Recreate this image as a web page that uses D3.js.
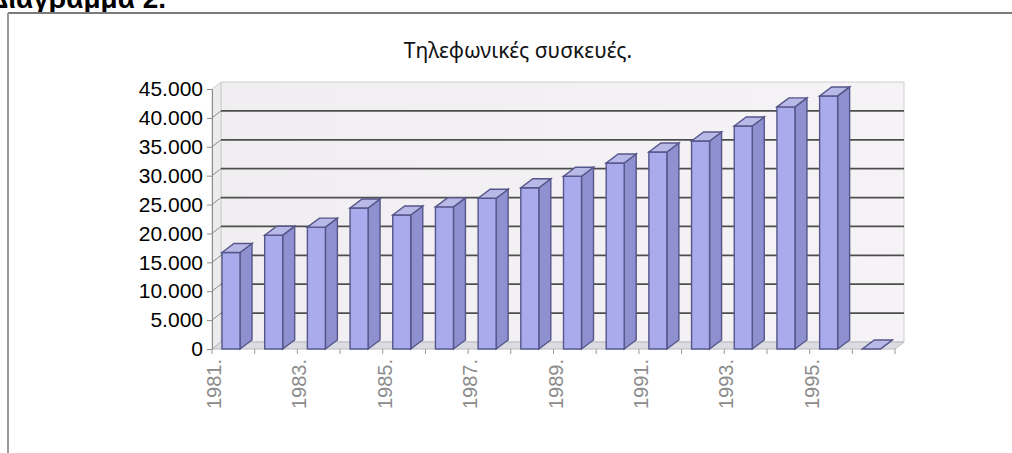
<!DOCTYPE html>
<html>
<head>
<meta charset="utf-8">
<script src="https://cdn.jsdelivr.net/npm/d3@7"></script>
<style>
  body { margin: 0; background: #fff; }
  svg { display: block; }
</style>
</head>
<body>
<div id="chart"></div>
<script>
const width = 1012
const height = 453

// data
const years = ['1981', '1982', '1983', '1984', '1985', '1986', '1987', '1988',
               '1989', '1990', '1991', '1992', '1993', '1994', '1995', '1996']
const phones = [16700, 19700, 21100, 24400, 23200, 24600, 26100, 27900,
                29900, 32200, 34100, 36000, 38600, 41900, 43800, 0]
const yTicks = [0, 5000, 10000, 15000, 20000, 25000, 30000, 35000, 40000, 45000]
const titleText = 'Τηλεφωνικές συσκευές.'
const captionText = 'Διάγραμμα 2.'

const plot = { left: 212, right: 895, top: 89, bottom: 349 }
const wall = { dx: 9, dy: -7 }     // depth of the back wall
const depth = { dx: 12, dy: -9 }   // depth of a bar

const svg = d3.select('#chart').append('svg')
    .attr('width', width)
    .attr('height', height)

const x = d3.scaleBand().domain(years).range([plot.left, plot.right])
const y = d3.scaleLinear().domain([0, 45000]).range([plot.bottom, plot.top])
const fmt = d3.formatLocale({ decimal: ',', thousands: '.', grouping: [3], currency: ['', ''] }).format(',')

// frame + caption (the scan cuts the caption at the page edge)
svg.append('text')
    .attr('x', 166).attr('y', 8)
    .attr('text-anchor', 'end')
    .attr('font-family', 'Liberation Sans, Arial, sans-serif')
    .attr('font-weight', 'bold')
    .attr('font-size', 28)
    .text(captionText)
svg.append('line').attr('x1', 8).attr('x2', width).attr('y1', 13).attr('y2', 13)
    .attr('stroke', '#7a7a7a').attr('stroke-width', 2)
svg.append('line').attr('x1', 8).attr('x2', 8).attr('y1', 13).attr('y2', height)
    .attr('stroke', '#9a9a9a').attr('stroke-width', 2)

// title
svg.append('text')
    .attr('x', 518).attr('y', 58)
    .attr('text-anchor', 'middle')
    .attr('font-family', 'Noto Sans, DejaVu Sans, sans-serif')
    .attr('font-size', 21)
    .attr('fill', '#111')
    .text(titleText)

// walls and floor
const grad = svg.append('defs').append('linearGradient')
    .attr('id', 'wallGrad').attr('x1', 0).attr('x2', 1).attr('y1', 0).attr('y2', 0)
grad.append('stop').attr('offset', '0%').attr('stop-color', '#f1eef1')
grad.append('stop').attr('offset', '100%').attr('stop-color', '#f6f3f6')

const bx0 = plot.left + wall.dx, bx1 = plot.right + wall.dx
const by0 = y(45000) + wall.dy, by1 = y(0) + wall.dy
svg.append('rect')
    .attr('x', bx0).attr('y', by0)
    .attr('width', bx1 - bx0).attr('height', by1 - by0)
    .attr('fill', 'url(#wallGrad)')
    .attr('stroke', '#cfcfcf')
svg.append('polygon')
    .attr('points', [[plot.left, y(0)], [bx0, by1], [bx0, by0], [plot.left, y(45000)]].join(' '))
    .attr('fill', '#ececee').attr('stroke', '#cfcfcf')
svg.append('polygon')
    .attr('points', [[plot.left, y(0)], [plot.right, y(0)], [bx1, by1], [bx0, by1]].join(' '))
    .attr('fill', '#dcdce2').attr('stroke', '#b8b8c0')

// gridlines on back and side walls
const grid = svg.append('g')
grid.selectAll('.gb').data(yTicks.filter(d => d > 0 && d < 45000)).join('line')
    .attr('x1', bx0).attr('x2', bx1)
    .attr('y1', d => y(d) + wall.dy).attr('y2', d => y(d) + wall.dy)
    .attr('stroke', '#4e4e4e').attr('stroke-width', 1.8)
grid.selectAll('.gs').data(yTicks.filter(d => d > 0 && d < 45000)).join('line')
    .attr('x1', plot.left).attr('x2', bx0)
    .attr('y1', d => y(d)).attr('y2', d => y(d) + wall.dy)
    .attr('stroke', '#8a8a8a').attr('stroke-width', 1)

// y axis
const yAxis = svg.append('g')
    .attr('transform', `translate(${plot.left},0)`)
    .call(d3.axisLeft(y).tickValues(yTicks).tickFormat(fmt).tickSize(5).tickPadding(4))
yAxis.select('.domain').attr('stroke', '#8a8a8a')
yAxis.selectAll('.tick line').attr('stroke', '#8a8a8a')
yAxis.selectAll('.tick text')
    .attr('font-family', 'Liberation Sans, Arial, sans-serif')
    .attr('font-size', 21)
    .attr('fill', '#000')

// x ticks at category boundaries and rotated labels
const xg = svg.append('g')
xg.selectAll('line').data(years.concat(['end'])).join('line')
    .attr('x1', (d, i) => plot.left + i * x.step())
    .attr('x2', (d, i) => plot.left + i * x.step())
    .attr('y1', plot.bottom).attr('y2', plot.bottom + 5)
    .attr('stroke', '#9a9a9a')
xg.selectAll('text').data(years.filter((d, i) => i % 2 === 0)).join('text')
    .attr('transform', d => `translate(${x(d) + 9},${plot.bottom + 10}) rotate(-90)`)
    .attr('text-anchor', 'end')
    .attr('font-family', 'Liberation Sans, Arial, sans-serif')
    .attr('font-size', 20)
    .attr('fill', '#8c8c8c')
    .text(d => d + '.')

// bars
const bw = 18
const bars = svg.append('g').selectAll('g').data(years.map((d, i) => ({ year: d, value: phones[i] })))
    .join('g')
bars.each(function(d) {
    const g = d3.select(this)
    const x0 = x(d.year) + 10, x1 = x0 + bw
    const yb = y(0), yt = y(d.value)
    g.append('polygon')
        .attr('points', [[x1, yb], [x1 + depth.dx, yb + depth.dy], [x1 + depth.dx, yt + depth.dy], [x1, yt]].join(' '))
        .attr('fill', '#8e90cf').attr('stroke', '#55568a').attr('stroke-width', 1.4)
    g.append('rect')
        .attr('x', x0).attr('y', yt)
        .attr('width', bw).attr('height', yb - yt)
        .attr('fill', '#a9abec').attr('stroke', '#55568a').attr('stroke-width', 1.4)
    g.append('polygon')
        .attr('points', [[x0, yt], [x1, yt], [x1 + depth.dx, yt + depth.dy], [x0 + depth.dx, yt + depth.dy]].join(' '))
        .attr('fill', '#b8b9e6').attr('stroke', '#55568a').attr('stroke-width', 1.4)
})
</script>
</body>
</html>
